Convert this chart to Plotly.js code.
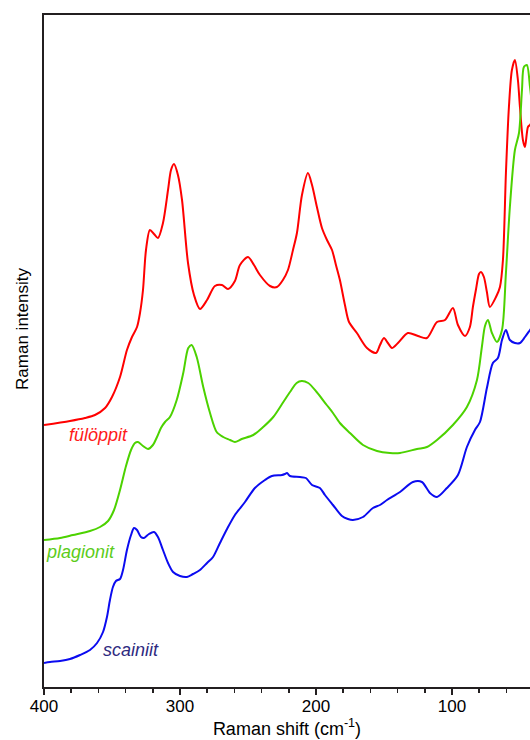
<!DOCTYPE html>
<html>
<head>
<meta charset="utf-8">
<script src="https://cdn.plot.ly/plotly-3.0.1.min.js"></script>
<style>html,body{margin:0;padding:0;background:#fff;}#chart{width:530px;height:740px;}</style>
</head>
<body>
<div id="chart"></div>
<script>
// Raman shift (cm-1) and intensity (arbitrary units, offset stacked) per mineral
const fuloppitShift = [400,380.9,369.9,362.5,355.1,350.0,344.1,339.0,335.3,331.6,329.4,327.2,325.0,322.1,319.1,316.2,312.5,308.8,306.6,304.4,301.5,298.5,294.1,289.7,285.3,280.1,274.3,269.1,264.7,259.6,255.9,250.0,245.6,241.2,233.8,228.7,224.3,220.6,216.9,214.0,210.3,205.9,202.9,199.3,195.6,191.9,188.2,185.3,182.4,178.7,175.7,169.9,162.5,155.9,152.9,150.0,147.1,144.1,139.7,132.4,125.0,118.4,111.0,105.1,99.3,95.6,90.4,86.8,84.6,82.4,80.1,78.7,76.5,74.3,72.1,67.6,64.7,62.5,60.3,58.1,55.9,53.7,51.5,50.0,47.8,46.3,44.1,42.6,41];
const fuloppitInt = [262,266,269,272,279,290,310,337,350,360,374,397,437,457,453,449,464,497,517,523,512,487,424,392,378,387,401,402,398,406,422,430,422,412,401,400,407,417,437,454,492,514,502,480,459,447,437,422,407,382,365,354,339,334,342,349,344,339,344,354,351,349,365,367,379,362,351,360,380,397,413,415,410,395,380,390,400,427,514,580,617,627,607,580,547,540,560,562,565];

const plagionitShift = [400,388.2,378.7,366.2,358.8,352.9,348.5,344.1,339.7,336.0,333.1,330.9,327.2,323.5,319.9,316.9,314.0,311.0,307.4,302.4,297.6,293.9,291.4,287.7,282.9,277.9,273.0,268.2,263.2,259.6,254.6,246.1,238.8,231.4,224.0,219.1,214.2,210.5,205.7,199.5,192.1,187.5,182.4,175.0,165.4,155.1,145.6,138.2,125.7,118.4,111.0,99.3,89.0,81.6,78.0,75.7,73.5,70.6,66.9,63.2,60.3,57.4,53.7,50.7,48.5,47.1,44.9,42.6,41];
const plagionitInt = [147,149,152,156,160,166,177,197,221,237,244,245,241,238,242,250,259,265,270,287,314,339,342,330,300,274,255,250,247,245,248,252,260,270,285,295,304,306,304,295,282,274,264,254,242,236,234,234,238,240,247,262,280,307,340,361,367,354,345,357,414,480,537,554,597,620,622,600,580];

const scainiitShift = [400,395.6,388.2,380.9,373.5,366.2,361.0,356.6,353.7,351.5,349.3,347.1,344.1,341.9,339.0,336.0,333.8,331.6,328.7,326.5,322.8,319.1,316.2,312.5,308.8,305.1,300.0,294.9,290.4,285.3,280.1,275.7,270.6,265.4,259.6,252.2,244.9,237.5,232.4,225.0,222.8,221.3,219.1,211.8,207.4,202.9,197.1,193.4,187.5,180.9,176.5,172.8,165.4,158.1,152.9,147.8,138.2,128.7,122.1,116.2,111.0,103.7,95.6,89.0,83.1,79.4,74.3,69.9,66.2,63.2,60.3,57.4,53.7,50.0,46.3,42.6,41];
const scainiitInt = [24,25,26,28,32,37,44,55,70,87,100,106,108,117,137,152,159,157,150,149,153,155,150,137,124,115,111,110,113,117,124,130,144,158,172,185,199,207,211,212,213,214,211,210,209,202,199,192,182,171,168,167,170,179,182,187,195,205,205,194,190,199,212,240,257,265,299,324,329,347,357,347,344,344,350,357,360];

const seriesNames = ['fülöppit', 'plagionit', 'scainiit'];
const labelShift = [359.6, 373.2, 335.7];
const labelInt = [252, 135, 37];

const xTickVals = [400, 300, 200, 100];
const xTickText = ['400', '300', '200', '100'];

const lineColors = ['#ff0000', '#4cd200', '#0b0bf0'];
const labelColors = ['#ff1a1a', '#5ccc1a', '#2e2a80'];

const font = 'Arial, "Liberation Sans", sans-serif';

const traces = [
  {x: fuloppitShift, y: fuloppitInt},
  {x: plagionitShift, y: plagionitInt},
  {x: scainiitShift, y: scainiitInt}
].map((t, i) => ({
  x: t.x, y: t.y, type: 'scatter', mode: 'lines', name: seriesNames[i],
  line: {color: lineColors[i], width: 2, shape: 'spline', smoothing: 0.8},
  hoverinfo: 'skip'
}));

const annotations = seriesNames.map((n, i) => ({
  x: labelShift[i], y: labelInt[i], xref: 'x', yref: 'y',
  text: n, showarrow: false,
  font: {family: font, size: 18, color: labelColors[i], style: 'italic'}
}));
// y-axis title (placed slightly above the axis centre, as in the reference)
annotations.push({
  x: -0.043, y: 0.533, xref: 'paper', yref: 'paper',
  xanchor: 'center', yanchor: 'middle', textangle: -90,
  text: 'Raman intensity', showarrow: false,
  font: {family: font, size: 17, color: '#000'}
});

const layout = {
  width: 530, height: 740,
  margin: {l: 44, r: 0, t: 15, b: 53, pad: 0},
  paper_bgcolor: '#ffffff', plot_bgcolor: '#ffffff',
  showlegend: false,
  font: {family: font, size: 17, color: '#000'},
  xaxis: {
    range: [400, 42.6], autorange: false,
    tickvals: xTickVals, ticktext: xTickText,
    ticks: 'outside', ticklen: 6, tickwidth: 1.5, tickcolor: '#231f20',
    ticklabelstandoff: -3,
    minor: {dtick: 20, tick0: 0, ticks: 'outside', ticklen: 4, tickwidth: 1.5, tickcolor: '#231f20'},
    showline: true, linecolor: '#231f20', linewidth: 2, mirror: true,
    showgrid: false, zeroline: false,
    tickfont: {family: font, size: 17, color: '#000'},
    title: {text: 'Raman shift (cm<sup>-1</sup>)', font: {family: font, size: 18, color: '#000'}, standoff: 6}
  },
  yaxis: {
    range: [0, 672], autorange: false,
    showticklabels: false, ticks: '',
    showline: true, linecolor: '#231f20', linewidth: 2, mirror: false,
    showgrid: false, zeroline: false
  },
  annotations: annotations
};

Plotly.newPlot('chart', traces, layout, {staticPlot: true, displayModeBar: false});
</script>
</body>
</html>
